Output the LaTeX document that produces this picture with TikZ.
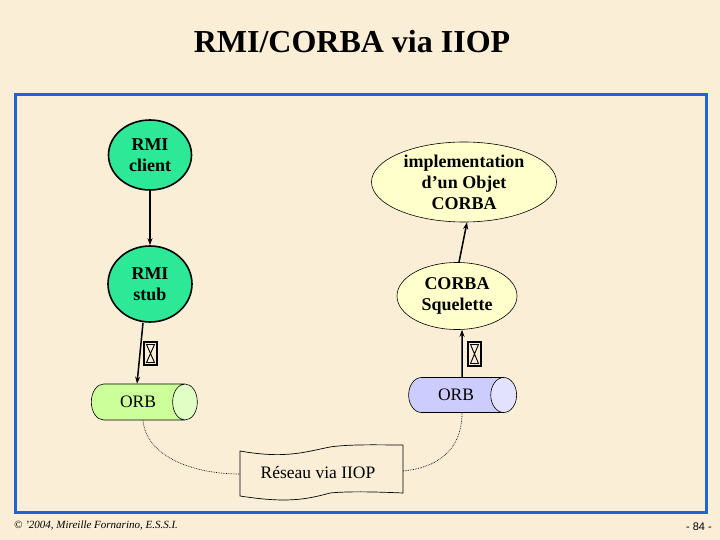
\documentclass[tikz,border=0pt]{standalone}
\usepackage{fontspec}
\setmainfont{Liberation Serif}
\newfontfamily\arialf{Liberation Sans}
\usetikzlibrary{shapes.geometric,arrows.meta}
\definecolor{bgc}{RGB}{250,239,214}
\definecolor{rmigreen}{RGB}{45,232,150}
\definecolor{corbay}{RGB}{255,255,204}
\definecolor{orbgreen}{RGB}{204,255,153}
\definecolor{orbgreenend}{RGB}{224,255,196}
\definecolor{orbblue}{RGB}{204,204,255}
\definecolor{orbblueend}{RGB}{226,226,255}
\definecolor{frameblue}{RGB}{30,100,210}
\tikzset{
  rmiell/.style={ellipse, draw=black, line width=1.6pt, fill=rmigreen, inner sep=0pt,
    align=center, font=\fontsize{18}{21}\selectfont\bfseries},
  corbaell/.style={ellipse, draw=black, line width=0.6pt, fill=corbay, inner sep=0pt,
    align=center, font=\fontsize{18}{21}\selectfont\bfseries},
  orbcyl/.style={cylinder, shape border rotate=0, draw=black, line width=0.6pt,
    cylinder uses custom fill, inner sep=0pt, font=\fontsize{17.5}{20}\selectfont},
  arr/.style={line width=1.5pt, -{Stealth[length=7pt,width=5pt]}},
  netlink/.style={densely dotted, line width=0.7pt},
  iconbox/.style={line width=1.4pt},
  iconx/.style={line width=0.9pt}
}
\begin{document}
\begin{tikzpicture}[x=1pt,y=-1pt]
\useasboundingbox (0,0) rectangle (720,540);
\fill[bgc] (0,0) rectangle (720,540);
\draw[frameblue, line width=3pt] (15,95) rectangle (706,512);

\node[font=\fontsize{32}{36}\selectfont\bfseries] (title) at (352,42) {RMI/CORBA via IIOP};

\node[rmiell, minimum width=83pt, minimum height=70pt] (client) at (150,155) {RMI\\client};
\node[rmiell, minimum width=84pt, minimum height=76pt] (stub) at (150,284) {RMI\\stub};
\node[corbaell, minimum width=185pt, minimum height=80pt] (impl) at (464,182) {implementation\\d’un Objet\\CORBA};
\node[corbaell, minimum width=120pt, minimum height=67pt] (squel) at (457,296) {CORBA\\Squelette};

\node[orbcyl, cylinder body fill=orbgreen, cylinder end fill=orbgreenend,
  minimum height=106pt, minimum width=36pt, aspect=2.1] (orbL) at (138,402) {ORB};
\node[orbcyl, cylinder body fill=orbblue, cylinder end fill=orbblueend,
  minimum height=108pt, minimum width=35pt, aspect=2.2] (orbR) at (456,395) {ORB};

\draw[arr] (client) -- (stub);
\draw[arr] ([xshift=2pt]squel.north) -- ([xshift=3pt]impl.south);
\draw[arr] ([xshift=-7pt]stub.south) -- ([xshift=-1pt]orbL.north);
\draw[arr] ([xshift=6pt]orbR.north) -- ([xshift=5pt]squel.south);

% missing-glyph boxes
\draw[iconbox] (144,342) rectangle (157,365);
\draw[iconx] (146.5,344.5) -- (154.5,344.5) -- (146.5,362.5) -- (154.5,362.5) -- cycle;
\draw[iconbox] (468,342) rectangle (481,366);
\draw[iconx] (470.5,344.5) -- (478.5,344.5) -- (470.5,363.5) -- (478.5,363.5) -- cycle;

% network banner
\draw[line width=0.7pt, fill=bgc] (240,451) .. controls (285,459) and (305,452) .. (330,447)
  .. controls (350,444) and (380,445) .. (403,445) -- (403,493)
  .. controls (380,492) and (350,491) .. (330,493)
  .. controls (305,500) and (285,503) .. (240,496) -- cycle;
\node[font=\fontsize{17.5}{20}\selectfont] (net) at (318,472) {Réseau via IIOP};
\coordinate (netL) at (240,474);
\coordinate (netR) at (403,471);
\draw[netlink] ([xshift=5pt]orbL.south) .. controls (146,455) and (190,474) .. (netL);
\draw[netlink] ([xshift=6pt]orbR.south) .. controls (462,452) and (435,468) .. (netR);

\node[anchor=west, inner sep=0pt, font=\fontsize{11}{13}\selectfont\itshape] (foot) at (14,526) {© ’2004, Mireille Fornarino, E.S.S.I.};
\node[anchor=east, inner sep=0pt, font=\arialf\fontsize{11}{13}\selectfont] (page) at (712,527) {- 84 -};
\end{tikzpicture}
\end{document}
